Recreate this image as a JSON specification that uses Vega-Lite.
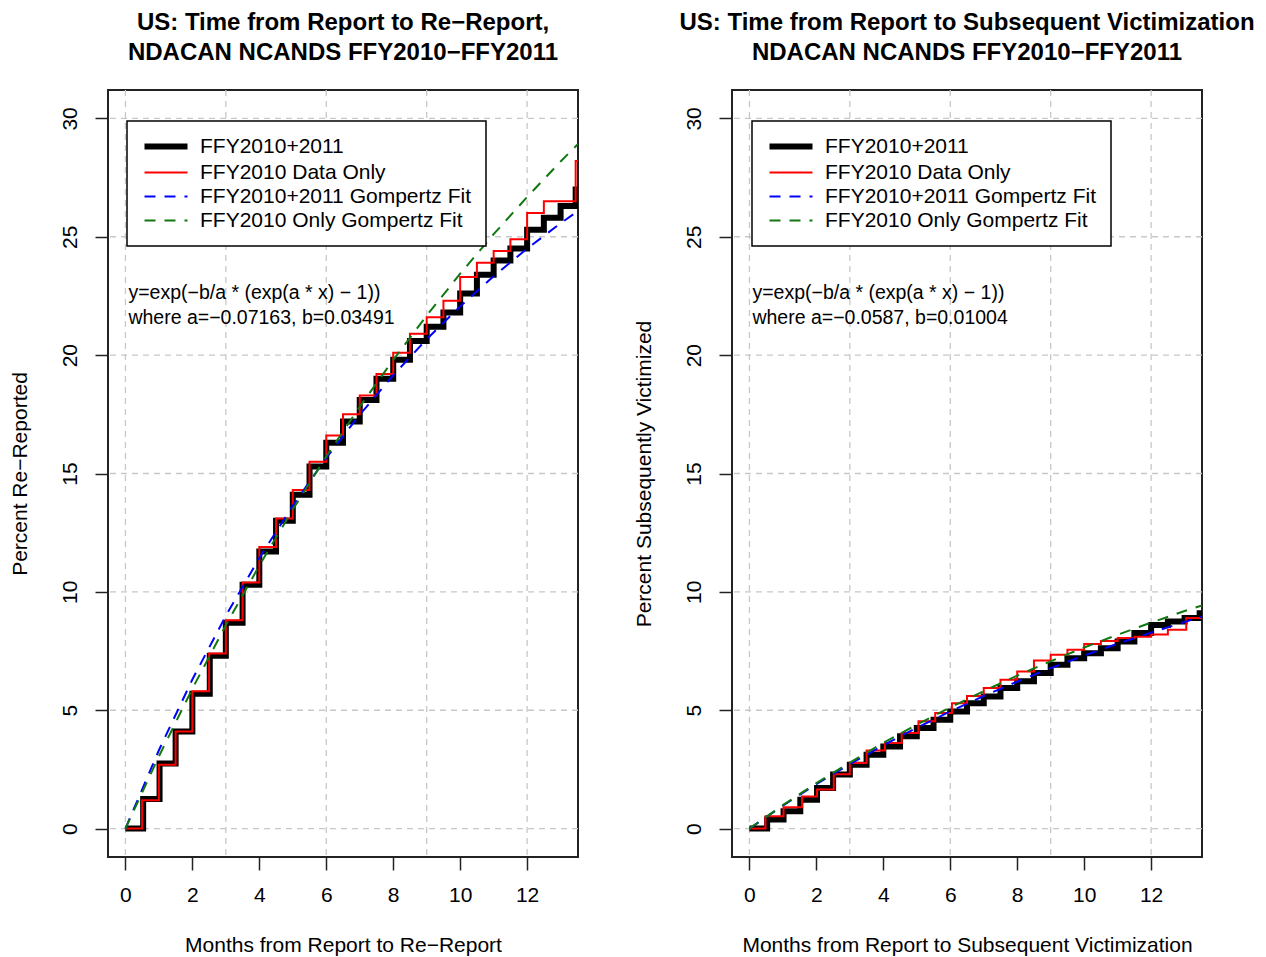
{
  "$schema": "https://vega.github.io/schema/vega-lite/v6.json",
  "background": "white",
  "padding": {"left": 8, "top": 10, "right": 10, "bottom": 2},
  "spacing": 154,
  "bounds": "flush",
  "datasets": {
    "gx": [{"g": 0}, {"g": 3}, {"g": 6}, {"g": 9}, {"g": 12}],
    "gy": [{"g": 0}, {"g": 5}, {"g": 10}, {"g": 15}, {"g": 20}, {"g": 25}, {"g": 30}],
    "one": [{}],
    "L": [
      {"s": "FFY2010+2011", "x": 0, "y": 0}, {"s": "FFY2010+2011", "x": 0.53, "y": 1.25}, {"s": "FFY2010+2011", "x": 1.02, "y": 2.75}, {"s": "FFY2010+2011", "x": 1.5, "y": 4.1}, {"s": "FFY2010+2011", "x": 2.0, "y": 5.7}, {"s": "FFY2010+2011", "x": 2.52, "y": 7.3}, {"s": "FFY2010+2011", "x": 3.0, "y": 8.7}, {"s": "FFY2010+2011", "x": 3.5, "y": 10.3}, {"s": "FFY2010+2011", "x": 4.0, "y": 11.7}, {"s": "FFY2010+2011", "x": 4.5, "y": 13.0}, {"s": "FFY2010+2011", "x": 5.0, "y": 14.1}, {"s": "FFY2010+2011", "x": 5.5, "y": 15.3}, {"s": "FFY2010+2011", "x": 6.0, "y": 16.3}, {"s": "FFY2010+2011", "x": 6.5, "y": 17.2}, {"s": "FFY2010+2011", "x": 7.0, "y": 18.1}, {"s": "FFY2010+2011", "x": 7.5, "y": 19.0}, {"s": "FFY2010+2011", "x": 8.0, "y": 19.8}, {"s": "FFY2010+2011", "x": 8.5, "y": 20.6}, {"s": "FFY2010+2011", "x": 9.0, "y": 21.2}, {"s": "FFY2010+2011", "x": 9.5, "y": 21.8}, {"s": "FFY2010+2011", "x": 10.0, "y": 22.6}, {"s": "FFY2010+2011", "x": 10.5, "y": 23.4}, {"s": "FFY2010+2011", "x": 11.0, "y": 24.0}, {"s": "FFY2010+2011", "x": 11.5, "y": 24.5}, {"s": "FFY2010+2011", "x": 12.0, "y": 25.3}, {"s": "FFY2010+2011", "x": 12.5, "y": 25.8}, {"s": "FFY2010+2011", "x": 13.0, "y": 26.3}, {"s": "FFY2010+2011", "x": 13.45, "y": 27.0}, {"s": "FFY2010+2011", "x": 13.52, "y": 27.0},
      {"s": "FFY2010 Data Only", "x": 0, "y": 0}, {"s": "FFY2010 Data Only", "x": 0.5, "y": 1.2}, {"s": "FFY2010 Data Only", "x": 1.0, "y": 2.7}, {"s": "FFY2010 Data Only", "x": 1.5, "y": 4.1}, {"s": "FFY2010 Data Only", "x": 2.0, "y": 5.8}, {"s": "FFY2010 Data Only", "x": 2.5, "y": 7.4}, {"s": "FFY2010 Data Only", "x": 3.0, "y": 8.8}, {"s": "FFY2010 Data Only", "x": 3.5, "y": 10.4}, {"s": "FFY2010 Data Only", "x": 4.0, "y": 11.9}, {"s": "FFY2010 Data Only", "x": 4.5, "y": 13.1}, {"s": "FFY2010 Data Only", "x": 5.0, "y": 14.3}, {"s": "FFY2010 Data Only", "x": 5.5, "y": 15.5}, {"s": "FFY2010 Data Only", "x": 6.0, "y": 16.6}, {"s": "FFY2010 Data Only", "x": 6.5, "y": 17.5}, {"s": "FFY2010 Data Only", "x": 7.0, "y": 18.3}, {"s": "FFY2010 Data Only", "x": 7.5, "y": 19.2}, {"s": "FFY2010 Data Only", "x": 8.0, "y": 20.1}, {"s": "FFY2010 Data Only", "x": 8.5, "y": 20.9}, {"s": "FFY2010 Data Only", "x": 9.0, "y": 21.6}, {"s": "FFY2010 Data Only", "x": 9.5, "y": 22.3}, {"s": "FFY2010 Data Only", "x": 10.0, "y": 23.3}, {"s": "FFY2010 Data Only", "x": 10.5, "y": 23.9}, {"s": "FFY2010 Data Only", "x": 11.0, "y": 24.4}, {"s": "FFY2010 Data Only", "x": 11.5, "y": 24.9}, {"s": "FFY2010 Data Only", "x": 12.0, "y": 26.0}, {"s": "FFY2010 Data Only", "x": 12.5, "y": 26.5}, {"s": "FFY2010 Data Only", "x": 13.45, "y": 28.2}, {"s": "FFY2010 Data Only", "x": 13.52, "y": 28.2},
      {"s": "FFY2010+2011 Gompertz Fit", "x": 0, "y": 0}, {"s": "FFY2010+2011 Gompertz Fit", "x": 1, "y": 3.31}, {"s": "FFY2010+2011 Gompertz Fit", "x": 2, "y": 6.30}, {"s": "FFY2010+2011 Gompertz Fit", "x": 3, "y": 8.99}, {"s": "FFY2010+2011 Gompertz Fit", "x": 4, "y": 11.43}, {"s": "FFY2010+2011 Gompertz Fit", "x": 5, "y": 13.64}, {"s": "FFY2010+2011 Gompertz Fit", "x": 6, "y": 15.66}, {"s": "FFY2010+2011 Gompertz Fit", "x": 7, "y": 17.48}, {"s": "FFY2010+2011 Gompertz Fit", "x": 8, "y": 19.15}, {"s": "FFY2010+2011 Gompertz Fit", "x": 9, "y": 20.67}, {"s": "FFY2010+2011 Gompertz Fit", "x": 10, "y": 22.06}, {"s": "FFY2010+2011 Gompertz Fit", "x": 11, "y": 23.33}, {"s": "FFY2010+2011 Gompertz Fit", "x": 12, "y": 24.50}, {"s": "FFY2010+2011 Gompertz Fit", "x": 13, "y": 25.57}, {"s": "FFY2010+2011 Gompertz Fit", "x": 13.52, "y": 26.09},
      {"s": "FFY2010 Only Gompertz Fit", "x": 0, "y": 0}, {"s": "FFY2010 Only Gompertz Fit", "x": 1, "y": 3.05}, {"s": "FFY2010 Only Gompertz Fit", "x": 2, "y": 5.91}, {"s": "FFY2010 Only Gompertz Fit", "x": 3, "y": 8.59}, {"s": "FFY2010 Only Gompertz Fit", "x": 4, "y": 11.11}, {"s": "FFY2010 Only Gompertz Fit", "x": 5, "y": 13.48}, {"s": "FFY2010 Only Gompertz Fit", "x": 6, "y": 15.72}, {"s": "FFY2010 Only Gompertz Fit", "x": 7, "y": 17.82}, {"s": "FFY2010 Only Gompertz Fit", "x": 8, "y": 19.80}, {"s": "FFY2010 Only Gompertz Fit", "x": 9, "y": 21.67}, {"s": "FFY2010 Only Gompertz Fit", "x": 10, "y": 23.44}, {"s": "FFY2010 Only Gompertz Fit", "x": 11, "y": 25.11}, {"s": "FFY2010 Only Gompertz Fit", "x": 12, "y": 26.68}, {"s": "FFY2010 Only Gompertz Fit", "x": 13, "y": 28.18}, {"s": "FFY2010 Only Gompertz Fit", "x": 13.52, "y": 28.92}
    ],
    "R": [
      {"s": "FFY2010+2011", "x": 0, "y": 0}, {"s": "FFY2010+2011", "x": 0.53, "y": 0.38}, {"s": "FFY2010+2011", "x": 1.02, "y": 0.73}, {"s": "FFY2010+2011", "x": 1.52, "y": 1.22}, {"s": "FFY2010+2011", "x": 2.02, "y": 1.72}, {"s": "FFY2010+2011", "x": 2.5, "y": 2.28}, {"s": "FFY2010+2011", "x": 3.0, "y": 2.7}, {"s": "FFY2010+2011", "x": 3.5, "y": 3.12}, {"s": "FFY2010+2011", "x": 4.0, "y": 3.47}, {"s": "FFY2010+2011", "x": 4.5, "y": 3.9}, {"s": "FFY2010+2011", "x": 5.0, "y": 4.25}, {"s": "FFY2010+2011", "x": 5.5, "y": 4.6}, {"s": "FFY2010+2011", "x": 6.0, "y": 4.95}, {"s": "FFY2010+2011", "x": 6.5, "y": 5.3}, {"s": "FFY2010+2011", "x": 7.0, "y": 5.58}, {"s": "FFY2010+2011", "x": 7.5, "y": 5.94}, {"s": "FFY2010+2011", "x": 8.0, "y": 6.22}, {"s": "FFY2010+2011", "x": 8.5, "y": 6.57}, {"s": "FFY2010+2011", "x": 9.0, "y": 6.92}, {"s": "FFY2010+2011", "x": 9.5, "y": 7.2}, {"s": "FFY2010+2011", "x": 10.0, "y": 7.41}, {"s": "FFY2010+2011", "x": 10.5, "y": 7.62}, {"s": "FFY2010+2011", "x": 11.0, "y": 7.9}, {"s": "FFY2010+2011", "x": 11.5, "y": 8.26}, {"s": "FFY2010+2011", "x": 12.0, "y": 8.6}, {"s": "FFY2010+2011", "x": 12.5, "y": 8.75}, {"s": "FFY2010+2011", "x": 13.0, "y": 8.9}, {"s": "FFY2010+2011", "x": 13.45, "y": 9.1}, {"s": "FFY2010+2011", "x": 13.52, "y": 9.1},
      {"s": "FFY2010 Data Only", "x": 0, "y": 0}, {"s": "FFY2010 Data Only", "x": 0.48, "y": 0.52}, {"s": "FFY2010 Data Only", "x": 1.02, "y": 0.9}, {"s": "FFY2010 Data Only", "x": 1.57, "y": 1.36}, {"s": "FFY2010 Data Only", "x": 2.02, "y": 1.65}, {"s": "FFY2010 Data Only", "x": 2.52, "y": 2.3}, {"s": "FFY2010 Data Only", "x": 3.0, "y": 2.77}, {"s": "FFY2010 Data Only", "x": 3.5, "y": 3.3}, {"s": "FFY2010 Data Only", "x": 4.05, "y": 3.62}, {"s": "FFY2010 Data Only", "x": 4.55, "y": 4.04}, {"s": "FFY2010 Data Only", "x": 5.05, "y": 4.53}, {"s": "FFY2010 Data Only", "x": 5.55, "y": 4.88}, {"s": "FFY2010 Data Only", "x": 6.05, "y": 5.3}, {"s": "FFY2010 Data Only", "x": 6.5, "y": 5.6}, {"s": "FFY2010 Data Only", "x": 7.0, "y": 5.94}, {"s": "FFY2010 Data Only", "x": 7.5, "y": 6.29}, {"s": "FFY2010 Data Only", "x": 8.0, "y": 6.64}, {"s": "FFY2010 Data Only", "x": 8.5, "y": 7.1}, {"s": "FFY2010 Data Only", "x": 9.0, "y": 7.34}, {"s": "FFY2010 Data Only", "x": 9.5, "y": 7.55}, {"s": "FFY2010 Data Only", "x": 10.0, "y": 7.8}, {"s": "FFY2010 Data Only", "x": 10.5, "y": 7.92}, {"s": "FFY2010 Data Only", "x": 11.0, "y": 8.05}, {"s": "FFY2010 Data Only", "x": 11.5, "y": 8.1}, {"s": "FFY2010 Data Only", "x": 12.0, "y": 8.2}, {"s": "FFY2010 Data Only", "x": 12.5, "y": 8.4}, {"s": "FFY2010 Data Only", "x": 13.05, "y": 8.9}, {"s": "FFY2010 Data Only", "x": 13.52, "y": 8.9},
      {"s": "FFY2010+2011 Gompertz Fit", "x": 0, "y": 0}, {"s": "FFY2010+2011 Gompertz Fit", "x": 1, "y": 0.97}, {"s": "FFY2010+2011 Gompertz Fit", "x": 2, "y": 1.88}, {"s": "FFY2010+2011 Gompertz Fit", "x": 3, "y": 2.72}, {"s": "FFY2010+2011 Gompertz Fit", "x": 4, "y": 3.52}, {"s": "FFY2010+2011 Gompertz Fit", "x": 5, "y": 4.26}, {"s": "FFY2010+2011 Gompertz Fit", "x": 6, "y": 4.95}, {"s": "FFY2010+2011 Gompertz Fit", "x": 7, "y": 5.60}, {"s": "FFY2010+2011 Gompertz Fit", "x": 8, "y": 6.21}, {"s": "FFY2010+2011 Gompertz Fit", "x": 9, "y": 6.78}, {"s": "FFY2010+2011 Gompertz Fit", "x": 10, "y": 7.31}, {"s": "FFY2010+2011 Gompertz Fit", "x": 11, "y": 7.81}, {"s": "FFY2010+2011 Gompertz Fit", "x": 12, "y": 8.28}, {"s": "FFY2010+2011 Gompertz Fit", "x": 13, "y": 8.73}, {"s": "FFY2010+2011 Gompertz Fit", "x": 13.52, "y": 8.95},
      {"s": "FFY2010 Only Gompertz Fit", "x": 0, "y": 0}, {"s": "FFY2010 Only Gompertz Fit", "x": 1, "y": 0.99}, {"s": "FFY2010 Only Gompertz Fit", "x": 2, "y": 1.92}, {"s": "FFY2010 Only Gompertz Fit", "x": 3, "y": 2.79}, {"s": "FFY2010 Only Gompertz Fit", "x": 4, "y": 3.62}, {"s": "FFY2010 Only Gompertz Fit", "x": 5, "y": 4.39}, {"s": "FFY2010 Only Gompertz Fit", "x": 6, "y": 5.12}, {"s": "FFY2010 Only Gompertz Fit", "x": 7, "y": 5.81}, {"s": "FFY2010 Only Gompertz Fit", "x": 8, "y": 6.46}, {"s": "FFY2010 Only Gompertz Fit", "x": 9, "y": 7.07}, {"s": "FFY2010 Only Gompertz Fit", "x": 10, "y": 7.65}, {"s": "FFY2010 Only Gompertz Fit", "x": 11, "y": 8.19}, {"s": "FFY2010 Only Gompertz Fit", "x": 12, "y": 8.70}, {"s": "FFY2010 Only Gompertz Fit", "x": 13, "y": 9.19}, {"s": "FFY2010 Only Gompertz Fit", "x": 13.52, "y": 9.43}
    ]
  },
  "resolve": {"scale": {"color": "independent"}, "legend": {"color": "independent"}},
  "hconcat": [
    {
      "width": 470, "height": 767,
      "title": {"text": ["US: Time from Report to Re−Report,", "NDACAN NCANDS FFY2010−FFY2011"]},
      "layer": [
        {"data": {"name": "gx"}, "mark": {"type": "rule", "color": "#c8c8c8", "strokeDash": [6, 5], "strokeWidth": 1.3},
         "encoding": {"x": {"field": "g", "type": "quantitative", "scale": {"domain": [-0.52, 13.52], "nice": false, "zero": false}, "axis": {"values": [0, 2, 4, 6, 8, 10, 12], "title": "Months from Report to Re−Report"}}}},
        {"data": {"name": "gy"}, "mark": {"type": "rule", "color": "#c8c8c8", "strokeDash": [6, 5], "strokeWidth": 1.3},
         "encoding": {"y": {"field": "g", "type": "quantitative", "scale": {"domain": [-1.2, 31.2], "nice": false, "zero": false}, "axis": {"values": [0, 5, 10, 15, 20, 25, 30], "title": "Percent Re−Reported"}}}},
        {"data": {"name": "L"}, "transform": [{"filter": "datum.s === 'FFY2010+2011'"}],
         "mark": {"type": "line", "interpolate": "step-after", "strokeWidth": 6, "clip": true, "strokeJoin": "miter"},
         "encoding": {
           "x": {"field": "x", "type": "quantitative", "scale": {"domain": [-0.52, 13.52], "nice": false, "zero": false}, "axis": {"values": [0, 2, 4, 6, 8, 10, 12], "title": "Months from Report to Re−Report"}},
           "y": {"field": "y", "type": "quantitative", "scale": {"domain": [-1.2, 31.2], "nice": false, "zero": false}, "axis": {"values": [0, 5, 10, 15, 20, 25, 30], "title": "Percent Re−Reported"}},
           "color": {"field": "s", "type": "nominal",
             "scale": {"domain": ["FFY2010+2011", "FFY2010 Data Only", "FFY2010+2011 Gompertz Fit", "FFY2010 Only Gompertz Fit"], "range": ["#000000", "#ff0000", "#0000ff", "#117711"]},
             "legend": {"title": null, "orient": "none", "legendX": 19, "legendY": 31, "symbolType": "M-1.6,0L7,0", "symbolSize": 100,
               "encode": {"symbols": {"update": {"strokeWidth": {"signal": "datum.value === 'FFY2010+2011' ? 6 : 2"}, "strokeDash": {"signal": "indexof(datum.value, 'Gompertz') >= 0 ? [11, 9] : [1, 0]"}}}}}}
         }},
        {"data": {"name": "L"}, "transform": [{"filter": "datum.s === 'FFY2010 Data Only'"}],
         "mark": {"type": "line", "interpolate": "step-after", "strokeWidth": 2, "clip": true},
         "encoding": {
           "x": {"field": "x", "type": "quantitative", "scale": {"domain": [-0.52, 13.52], "nice": false, "zero": false}, "axis": {"values": [0, 2, 4, 6, 8, 10, 12], "title": "Months from Report to Re−Report"}},
           "y": {"field": "y", "type": "quantitative", "scale": {"domain": [-1.2, 31.2], "nice": false, "zero": false}, "axis": {"values": [0, 5, 10, 15, 20, 25, 30], "title": "Percent Re−Reported"}},
           "color": {"field": "s", "type": "nominal", "scale": {"domain": ["FFY2010+2011", "FFY2010 Data Only", "FFY2010+2011 Gompertz Fit", "FFY2010 Only Gompertz Fit"], "range": ["#000000", "#ff0000", "#0000ff", "#117711"]}}
         }},
        {"data": {"name": "L"}, "transform": [{"filter": "indexof(datum.s, 'Gompertz') >= 0"}],
         "mark": {"type": "line", "strokeWidth": 2, "strokeDash": [11, 9], "clip": true},
         "encoding": {
           "x": {"field": "x", "type": "quantitative", "scale": {"domain": [-0.52, 13.52], "nice": false, "zero": false}, "axis": {"values": [0, 2, 4, 6, 8, 10, 12], "title": "Months from Report to Re−Report"}},
           "y": {"field": "y", "type": "quantitative", "scale": {"domain": [-1.2, 31.2], "nice": false, "zero": false}, "axis": {"values": [0, 5, 10, 15, 20, 25, 30], "title": "Percent Re−Reported"}},
           "color": {"field": "s", "type": "nominal", "scale": {"domain": ["FFY2010+2011", "FFY2010 Data Only", "FFY2010+2011 Gompertz Fit", "FFY2010 Only Gompertz Fit"], "range": ["#000000", "#ff0000", "#0000ff", "#117711"]}}
         }},
        {"data": {"name": "one"},
         "mark": {"type": "text", "align": "left", "baseline": "middle", "fontSize": 19.5, "lineHeight": 25, "font": "Liberation Sans", "color": "black"},
         "encoding": {
           "x": {"datum": 0.09, "type": "quantitative", "scale": {"domain": [-0.52, 13.52], "nice": false, "zero": false}, "axis": {"values": [0, 2, 4, 6, 8, 10, 12], "title": "Months from Report to Re−Report"}},
           "y": {"datum": 22.63, "type": "quantitative", "scale": {"domain": [-1.2, 31.2], "nice": false, "zero": false}, "axis": {"values": [0, 5, 10, 15, 20, 25, 30], "title": "Percent Re−Reported"}},
           "text": {"value": ["y=exp(−b/a * (exp(a * x) − 1))", "where a=−0.07163, b=0.03491"]}
         }}
      ]
    },
    {
      "width": 470, "height": 767,
      "title": {"text": ["US: Time from Report to Subsequent Victimization", "NDACAN NCANDS FFY2010−FFY2011"]},
      "layer": [
        {"data": {"name": "gx"}, "mark": {"type": "rule", "color": "#c8c8c8", "strokeDash": [6, 5], "strokeWidth": 1.3},
         "encoding": {"x": {"field": "g", "type": "quantitative", "scale": {"domain": [-0.52, 13.52], "nice": false, "zero": false}, "axis": {"values": [0, 2, 4, 6, 8, 10, 12], "title": "Months from Report to Subsequent Victimization"}}}},
        {"data": {"name": "gy"}, "mark": {"type": "rule", "color": "#c8c8c8", "strokeDash": [6, 5], "strokeWidth": 1.3},
         "encoding": {"y": {"field": "g", "type": "quantitative", "scale": {"domain": [-1.2, 31.2], "nice": false, "zero": false}, "axis": {"values": [0, 5, 10, 15, 20, 25, 30], "title": "Percent Subsequently Victimized"}}}},
        {"data": {"name": "R"}, "transform": [{"filter": "datum.s === 'FFY2010+2011'"}],
         "mark": {"type": "line", "interpolate": "step-after", "strokeWidth": 6, "clip": true, "strokeJoin": "miter"},
         "encoding": {
           "x": {"field": "x", "type": "quantitative", "scale": {"domain": [-0.52, 13.52], "nice": false, "zero": false}, "axis": {"values": [0, 2, 4, 6, 8, 10, 12], "title": "Months from Report to Subsequent Victimization"}},
           "y": {"field": "y", "type": "quantitative", "scale": {"domain": [-1.2, 31.2], "nice": false, "zero": false}, "axis": {"values": [0, 5, 10, 15, 20, 25, 30], "title": "Percent Subsequently Victimized"}},
           "color": {"field": "s", "type": "nominal",
             "scale": {"domain": ["FFY2010+2011", "FFY2010 Data Only", "FFY2010+2011 Gompertz Fit", "FFY2010 Only Gompertz Fit"], "range": ["#000000", "#ff0000", "#0000ff", "#117711"]},
             "legend": {"title": null, "orient": "none", "legendX": 20, "legendY": 31, "symbolType": "M-1.6,0L7,0", "symbolSize": 100,
               "encode": {"symbols": {"update": {"strokeWidth": {"signal": "datum.value === 'FFY2010+2011' ? 6 : 2"}, "strokeDash": {"signal": "indexof(datum.value, 'Gompertz') >= 0 ? [11, 9] : [1, 0]"}}}}}}
         }},
        {"data": {"name": "R"}, "transform": [{"filter": "datum.s === 'FFY2010 Data Only'"}],
         "mark": {"type": "line", "interpolate": "step-after", "strokeWidth": 2, "clip": true},
         "encoding": {
           "x": {"field": "x", "type": "quantitative", "scale": {"domain": [-0.52, 13.52], "nice": false, "zero": false}, "axis": {"values": [0, 2, 4, 6, 8, 10, 12], "title": "Months from Report to Subsequent Victimization"}},
           "y": {"field": "y", "type": "quantitative", "scale": {"domain": [-1.2, 31.2], "nice": false, "zero": false}, "axis": {"values": [0, 5, 10, 15, 20, 25, 30], "title": "Percent Subsequently Victimized"}},
           "color": {"field": "s", "type": "nominal", "scale": {"domain": ["FFY2010+2011", "FFY2010 Data Only", "FFY2010+2011 Gompertz Fit", "FFY2010 Only Gompertz Fit"], "range": ["#000000", "#ff0000", "#0000ff", "#117711"]}}
         }},
        {"data": {"name": "R"}, "transform": [{"filter": "indexof(datum.s, 'Gompertz') >= 0"}],
         "mark": {"type": "line", "strokeWidth": 2, "strokeDash": [11, 9], "clip": true},
         "encoding": {
           "x": {"field": "x", "type": "quantitative", "scale": {"domain": [-0.52, 13.52], "nice": false, "zero": false}, "axis": {"values": [0, 2, 4, 6, 8, 10, 12], "title": "Months from Report to Subsequent Victimization"}},
           "y": {"field": "y", "type": "quantitative", "scale": {"domain": [-1.2, 31.2], "nice": false, "zero": false}, "axis": {"values": [0, 5, 10, 15, 20, 25, 30], "title": "Percent Subsequently Victimized"}},
           "color": {"field": "s", "type": "nominal", "scale": {"domain": ["FFY2010+2011", "FFY2010 Data Only", "FFY2010+2011 Gompertz Fit", "FFY2010 Only Gompertz Fit"], "range": ["#000000", "#ff0000", "#0000ff", "#117711"]}}
         }},
        {"data": {"name": "one"},
         "mark": {"type": "text", "align": "left", "baseline": "middle", "fontSize": 19.5, "lineHeight": 25, "font": "Liberation Sans", "color": "black"},
         "encoding": {
           "x": {"datum": 0.09, "type": "quantitative", "scale": {"domain": [-0.52, 13.52], "nice": false, "zero": false}, "axis": {"values": [0, 2, 4, 6, 8, 10, 12], "title": "Months from Report to Subsequent Victimization"}},
           "y": {"datum": 22.63, "type": "quantitative", "scale": {"domain": [-1.2, 31.2], "nice": false, "zero": false}, "axis": {"values": [0, 5, 10, 15, 20, 25, 30], "title": "Percent Subsequently Victimized"}},
           "text": {"value": ["y=exp(−b/a * (exp(a * x) − 1))", "where a=−0.0587, b=0.01004"]}
         }}
      ]
    }
  ],
  "config": {
    "font": "Liberation Sans",
    "view": {"stroke": "#222222", "strokeWidth": 2},
    "title": {"fontSize": 24, "font": "Liberation Sans", "fontWeight": "bold", "anchor": "middle", "lineHeight": 30, "offset": 24, "color": "black"},
    "axis": {"domain": false, "grid": false, "tickSize": 13, "tickColor": "#222222", "tickWidth": 1.5, "labelFontSize": 21, "labelFont": "Liberation Sans", "labelColor": "black", "titleFont": "Liberation Sans", "titleFontSize": 21, "titleFontWeight": "normal", "titleColor": "black", "labelFlush": false, "labelOverlap": false},
    "axisX": {"labelPadding": 14, "titlePadding": 29},
    "axisY": {"labelAngle": -90, "labelAlign": "center", "labelBaseline": "bottom", "labelPadding": 15, "titlePadding": 29},
    "legend": {"labelFontSize": 21, "labelFont": "Liberation Sans", "labelColor": "black", "strokeColor": "black", "fillColor": "white", "padding": 15, "rowPadding": 2, "labelOffset": 37, "labelLimit": 0, "symbolStrokeWidth": 2, "strokeWidth": 1.5}
  }
}
